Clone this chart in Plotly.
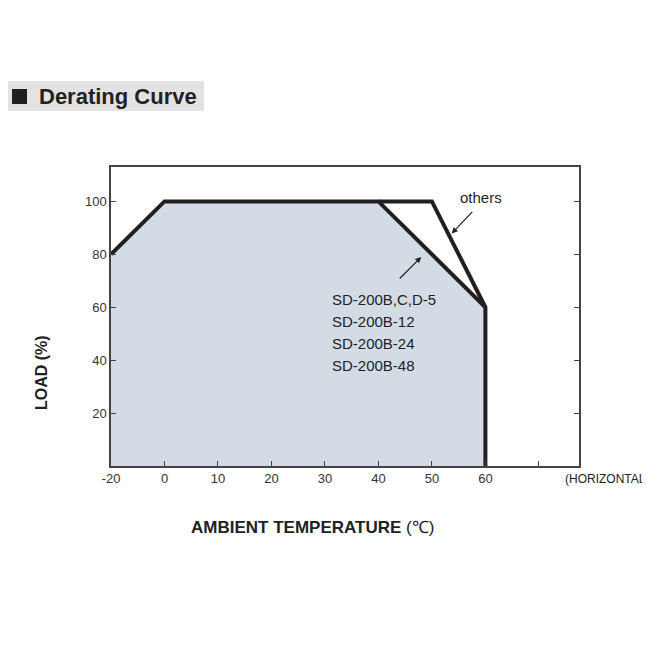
import plotly.graph_objects as go

# ---- data ----
temp_sd = [-20, 0, 40, 60, 60]
load_sd = [80, 100, 100, 60, 0]
temp_others = [40, 50, 60]
load_others = [100, 100, 60]
x_ticks = [-20, 0, 10, 20, 30, 40, 50, 60, 70]
x_tick_labels = ["-20", "0", "10", "20", "30", "40", "50", "60", ""]
y_ticks = [20, 40, 60, 80, 100]
sd_models = ["SD-200B,C,D-5", "SD-200B-12", "SD-200B-24", "SD-200B-48"]

# axis is broken: -20..0 spans same width as one 10-degree step
def xpos(t):
    return t / 2 if t < 0 else t

OFF = 8  # page body margin
W, H = 642, 642
L, R, T, B = 111 - OFF, 579 - OFF, 167 - OFF, 466 - OFF
def px(x):
    return (x - OFF - L) / (R - L)
def py(y):
    return (B - (y - OFF)) / (B - T)

LINE = "#231f20"
FONT = "Liberation Sans, Arial, sans-serif"
TXT = "#222"

fig = go.Figure()
fig.add_trace(go.Scatter(
    x=[xpos(t) for t in temp_sd], y=load_sd, mode="lines",
    line=dict(color=LINE, width=4), fill="tozeroy", fillcolor="#d3dce5",
    hoverinfo="skip", showlegend=False))
fig.add_trace(go.Scatter(
    x=[xpos(t) for t in temp_others], y=load_others, mode="lines",
    line=dict(color=LINE, width=4), hoverinfo="skip", showlegend=False))

def label(x, y, text, size, xanchor="center", **kw):
    return dict(x=px(x), y=py(y), xref="paper", yref="paper", text=text, showarrow=False,
                xanchor=xanchor, yanchor="middle", font=dict(family=FONT, size=size, color=TXT), **kw)

ann = []
ann.append(dict(x=53.7, y=87.9, xref="x", yref="y", ax=22, ay=-23, text="",
                showarrow=True, arrowhead=2, arrowsize=1, arrowwidth=1.2, arrowcolor="#222"))
ann.append(dict(x=48.0, y=79.0, xref="x", yref="y", ax=-23, ay=23, text="",
                showarrow=True, arrowhead=2, arrowsize=1, arrowwidth=1.2, arrowcolor="#222"))
ann.append(label(481, 197, "others", 15))
for i, m in enumerate(sd_models):
    ann.append(label(330, 299 + i * 22.3, m, 15, xanchor="left"))
ann.append(label(563, 479, "(HORIZONTAL", 12, xanchor="left"))
ann.append(label(312, 527, "<b>AMBIENT TEMPERATURE</b> (℃)", 17))
ann.append(label(41, 373, "<b>LOAD (%)</b>", 16, textangle=-90))
ann.append(label(37, 97, "<b>Derating Curve</b>", 22, xanchor="left"))

shapes = [
    dict(type="rect", xref="paper", yref="paper", x0=px(OFF), x1=px(204), y0=py(111), y1=py(81),
         fillcolor="#e3e3e3", line=dict(width=0), layer="below"),
    dict(type="rect", xref="paper", yref="paper", x0=px(12), x1=px(27), y0=py(104), y1=py(89),
         fillcolor="#231f20", line=dict(width=0)),
]

fig.update_layout(
    width=W, height=H, margin=dict(l=L, r=W - R, t=T, b=H - B),
    paper_bgcolor="white", plot_bgcolor="white", showlegend=False,
    font=dict(family=FONT, size=13, color="#333"),
    xaxis=dict(range=[-10, 77.5], tickvals=[xpos(t) for t in x_ticks], ticktext=x_tick_labels,
               ticks="inside", ticklen=5, tickcolor="#444", tickwidth=1.2,
               showline=True, linecolor="#444", linewidth=1.5, mirror=True,
               showgrid=False, zeroline=False, tickfont=dict(size=13, color="#333")),
    yaxis=dict(range=[0, 113], tickvals=y_ticks, ticks="inside", ticklen=5, tickcolor="#444",
               tickwidth=1.2, showline=True, linecolor="#444", linewidth=1.5, mirror="ticks",
               showgrid=False, zeroline=False, tickfont=dict(size=13, color="#333")),
    annotations=ann, shapes=shapes,
)
fig.write_html("out.html")
